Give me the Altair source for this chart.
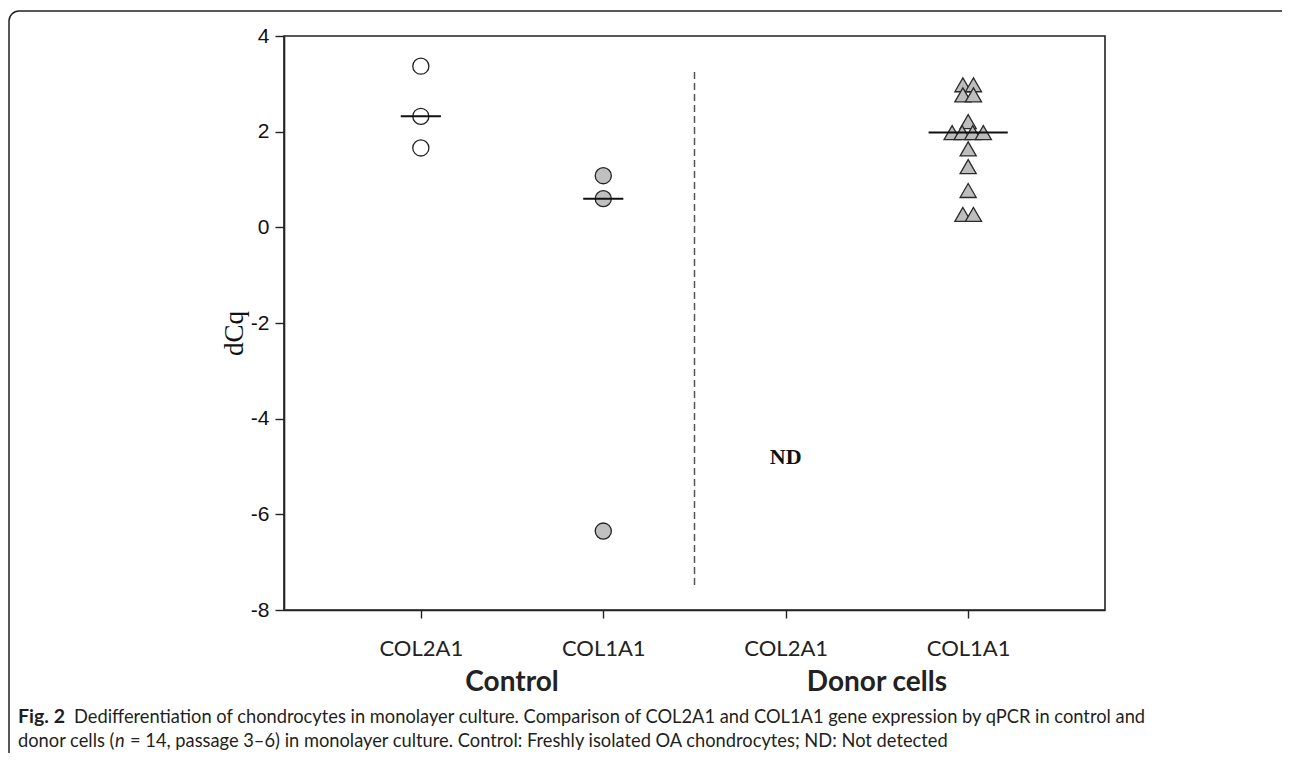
import altair as alt
import pandas as pd

# ---------------- data ----------------
gene_labels = ["COL2A1", "COL1A1", "COL2A1", "COL1A1"]
gene_pos = [1, 2, 3, 4]
groups = ["Control", "Donor cells"]
group_pos = [1.5, 3.5]
y_ticks = [-8, -6, -4, -2, 0, 2, 4]

ctrl_col2a1 = [3.37, 2.32, 1.66]
ctrl_col1a1 = [1.08, 0.60, -6.35]
donor_col1a1 = [2.98, 2.98, 2.77, 2.77, 2.21, 1.98, 1.98, 1.98, 1.98,
                1.64, 1.27, 0.77, 0.27, 0.27]
donor_x = [3.971, 4.029, 3.971, 4.029, 4.0, 3.912, 3.967, 4.025, 4.083,
           4.0, 4.0, 4.0, 3.971, 4.029]

median_pos = [1, 2, 4]
medians = [2.32, 0.60, 1.98]
median_half = [0.11, 0.11, 0.217]

divider_x = [2.5]
divider_top = [3.25]
divider_bottom = [-7.48]

nd_x = [3]
nd_y = [-4.8]
nd_text = ["ND"]

cap_bold = "Fig. 2"
cap_line1 = ("Dedifferentiation of chondrocytes in monolayer culture. Comparison of "
             "COL2A1 and COL1A1 gene expression by qPCR in control and")
cap_line2a = "donor cells ("
cap_line2b = "n"
cap_line2c = ("= 14, passage 3\u20136) in monolayer culture. Control: Freshly isolated "
              "OA chondrocytes; ND: Not detected")

# ---------------- tables ----------------
df_c2 = pd.DataFrame({"x": [gene_pos[0]] * len(ctrl_col2a1), "y": ctrl_col2a1})
df_c1 = pd.DataFrame({"x": [gene_pos[1]] * len(ctrl_col1a1), "y": ctrl_col1a1})
df_d1 = pd.DataFrame({"x": donor_x, "y": donor_col1a1})
df_med = pd.DataFrame({
    "x": [p - h for p, h in zip(median_pos, median_half)],
    "x2": [p + h for p, h in zip(median_pos, median_half)],
    "y": medians,
})
df_div = pd.DataFrame({"x": divider_x, "y": divider_top, "y2": divider_bottom})
df_nd = pd.DataFrame({"x": nd_x, "y": nd_y, "t": nd_text})
df_grp = pd.DataFrame({"x": group_pos, "t": groups})
one = pd.DataFrame({"a": [0]})

label_expr = "{1:'%s',2:'%s',3:'%s',4:'%s'}[datum.value]" % tuple(gene_labels)
ylabel_expr = "datum.value < 0 ? '-' + abs(datum.value) : '' + datum.value"

xs = alt.Scale(domain=[0.25, 4.75], nice=False, zero=False)
ys = alt.Scale(domain=[-8, 4], nice=False, zero=False)

x_axis = alt.Axis(values=gene_pos, labelExpr=label_expr, title=None, grid=False,
                  tickSize=8, labelPadding=20, labelFont="Lato", labelFontSize=22,
                  labelColor="#222", domainColor="#222", tickColor="#222",
                  domainWidth=1.6, tickWidth=1.4, labelFlush=False)
y_axis = alt.Axis(values=y_ticks, labelExpr=ylabel_expr, title="dCq", grid=False,
                  tickSize=9, labelPadding=6, labelFont="Liberation Sans",
                  labelFontSize=21, labelColor="#111", domainColor="#222",
                  tickColor="#222", domainWidth=1.6, tickWidth=1.4,
                  titleFont="Liberation Serif", titleFontSize=27,
                  titleFontWeight="normal", titleColor="#111", titleAngle=-90,
                  titleX=-50, titleY=297, titleBaseline="middle", titleAlign="center")

X = alt.X("x:Q", scale=xs, axis=x_axis)
Y = alt.Y("y:Q", scale=ys, axis=y_axis)

open_pts = alt.Chart(df_c2).mark_point(
    shape="circle", filled=True, fill="white", stroke="#222", strokeWidth=1.3,
    size=260, opacity=1).encode(x=X, y=Y)
gray_pts = alt.Chart(df_c1).mark_point(
    shape="circle", filled=True, fill="#c0c0c0", stroke="#222", strokeWidth=1.3,
    size=260, opacity=1).encode(x=X, y=Y)
tri_pts = alt.Chart(df_d1).mark_point(
    shape="triangle-up", filled=True, fill="#bdbdbd", stroke="#2a2a2a",
    strokeWidth=1.3, size=260, opacity=1).encode(x=X, y=Y)
med = alt.Chart(df_med).mark_rule(color="#111", strokeWidth=2).encode(
    x=X, x2="x2:Q", y=Y)
div = alt.Chart(df_div).mark_rule(color="#555", strokeWidth=1.5,
                                  strokeDash=[7, 4]).encode(x=X, y=Y, y2="y2:Q")
nd = alt.Chart(df_nd).mark_text(font="Liberation Serif", fontSize=22,
                                fontWeight="bold", color="#111").encode(
    x=X, y=Y, text="t:N")
grp = alt.Chart(df_grp).mark_text(font="Lato", fontSize=28, fontWeight="bold",
                                  color="#222", baseline="alphabetic").encode(
    x=X, y=alt.value(655), text="t:N")

frame = alt.Chart(one).mark_rect(filled=False, stroke="#222", strokeWidth=1.5,
                                 cornerRadius=10, fillOpacity=0).encode(
    x=alt.value(-275), x2=alt.value(1100), y=alt.value(-25), y2=alt.value(760))

cap_style = dict(font="Lato", fontSize=18.3, color="#231f20", align="left",
                 baseline="alphabetic")
c1 = alt.Chart(one).mark_text(text=cap_bold, fontWeight="bold",
                              **{**cap_style, "fontSize": 19.5}).encode(
    x=alt.value(-266), y=alt.value(687))
c2 = alt.Chart(one).mark_text(text=cap_line1, **cap_style).encode(
    x=alt.value(-210), y=alt.value(687))
c3 = alt.Chart(one).mark_text(text=cap_line2a, **cap_style).encode(
    x=alt.value(-266), y=alt.value(711))
c4 = alt.Chart(one).mark_text(text=cap_line2b, fontStyle="italic", **cap_style).encode(
    x=alt.value(-169), y=alt.value(711))
c5 = alt.Chart(one).mark_text(text=cap_line2c, **cap_style).encode(
    x=alt.value(-154), y=alt.value(711))

chart = alt.layer(
    frame, div, open_pts, gray_pts, tri_pts, med, nd, grp, c1, c2, c3, c4, c5
).properties(
    width=821, height=574,
    background="white",
    autosize=alt.AutoSizeParams(type="none"),
    padding={"left": 276, "top": 28, "right": 177, "bottom": 143},
).configure_view(
    stroke="#222", strokeWidth=1.6
)

chart.save("out.html", embed_options={"renderer": "svg", "actions": False})
